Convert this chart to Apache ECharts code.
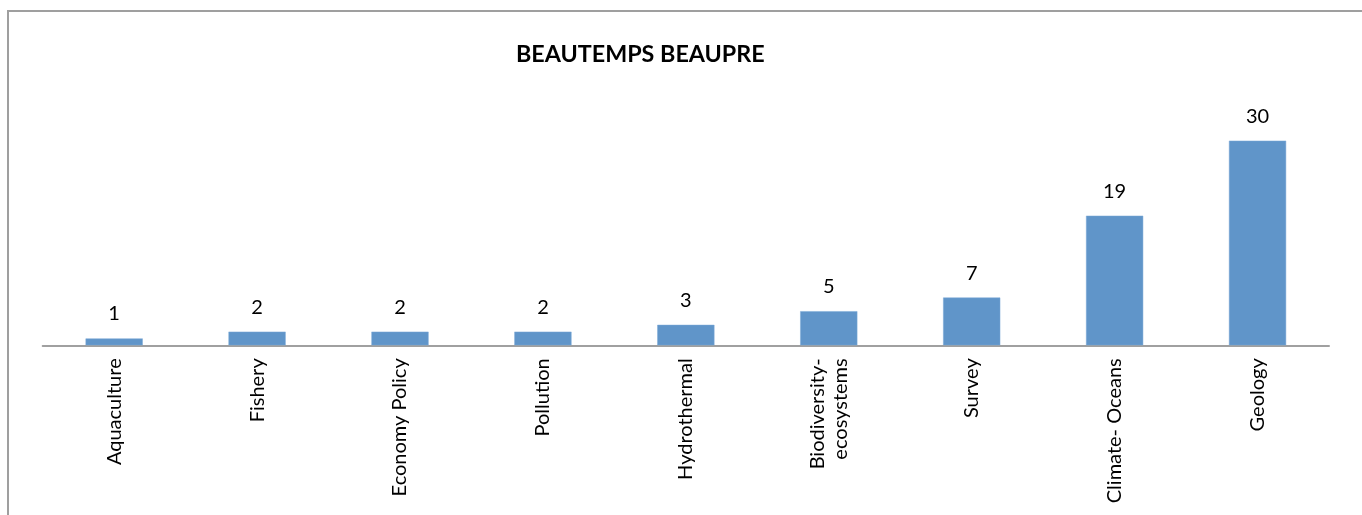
<!DOCTYPE html>
<html>
<head>
<meta charset="utf-8">
<script src="https://cdn.jsdelivr.net/npm/echarts@6/dist/echarts.min.js"></script>
<style>
  html, body { margin: 0; padding: 0; background: #fff; }
  #chart { position: absolute; left: 0; top: 0; width: 1362px; height: 515px; }
  #frame { position: absolute; left: 7px; top: 10px; right: -4px; bottom: -4px;
           border-top: 2px solid #9f9f9f; border-left: 2px solid #9f9f9f; pointer-events: none; }
</style>
</head>
<body>
<div id="chart"></div>
<div id="frame"></div>
<script>
// Number of items per topic
const titleText = 'BEAUTEMPS BEAUPRE';
const categories = ['Aquaculture', 'Fishery', 'Economy Policy', 'Pollution', 'Hydrothermal',
  'Biodiversity-\necosystems', 'Survey', 'Climate- Oceans', 'Geology'];
const counts = [1, 2, 2, 2, 3, 5, 7, 19, 30];

const FONT = 'Lato';

const chart = echarts.init(document.getElementById('chart'), null, { renderer: 'canvas' });
chart.setOption({
  animation: false,
  backgroundColor: '#ffffff',
  title: {
    text: titleText,
    left: 511,
    top: 38,
    textStyle: { fontFamily: FONT, fontWeight: 'bold', fontSize: 23.3, color: '#000' }
  },
  grid: { left: 42.7, right: 33, top: 106.6, bottom: 169.7, containLabel: false },
  xAxis: {
    type: 'category',
    data: categories,
    axisLine: { show: true, lineStyle: { color: '#a0a0a0', width: 2 } },
    axisTick: { show: false },
    axisLabel: {
      rotate: 90,
      margin: 13,
      interval: 0,
      fontFamily: FONT,
      fontSize: 20,
      color: '#000',
      lineHeight: 23
    }
  },
  yAxis: {
    type: 'value',
    min: 0,
    max: 35,
    show: false,
    splitLine: { show: false }
  },
  series: [{
    type: 'bar',
    data: counts,
    barWidth: '40%',
    itemStyle: { color: '#6095c9', borderColor: '#7aa9d6', borderWidth: 0.5 },
    label: {
      show: true,
      position: 'top',
      distance: 14.5,
      fontFamily: FONT,
      fontSize: 20,
      color: '#000'
    }
  }]
});
</script>
</body>
</html>
